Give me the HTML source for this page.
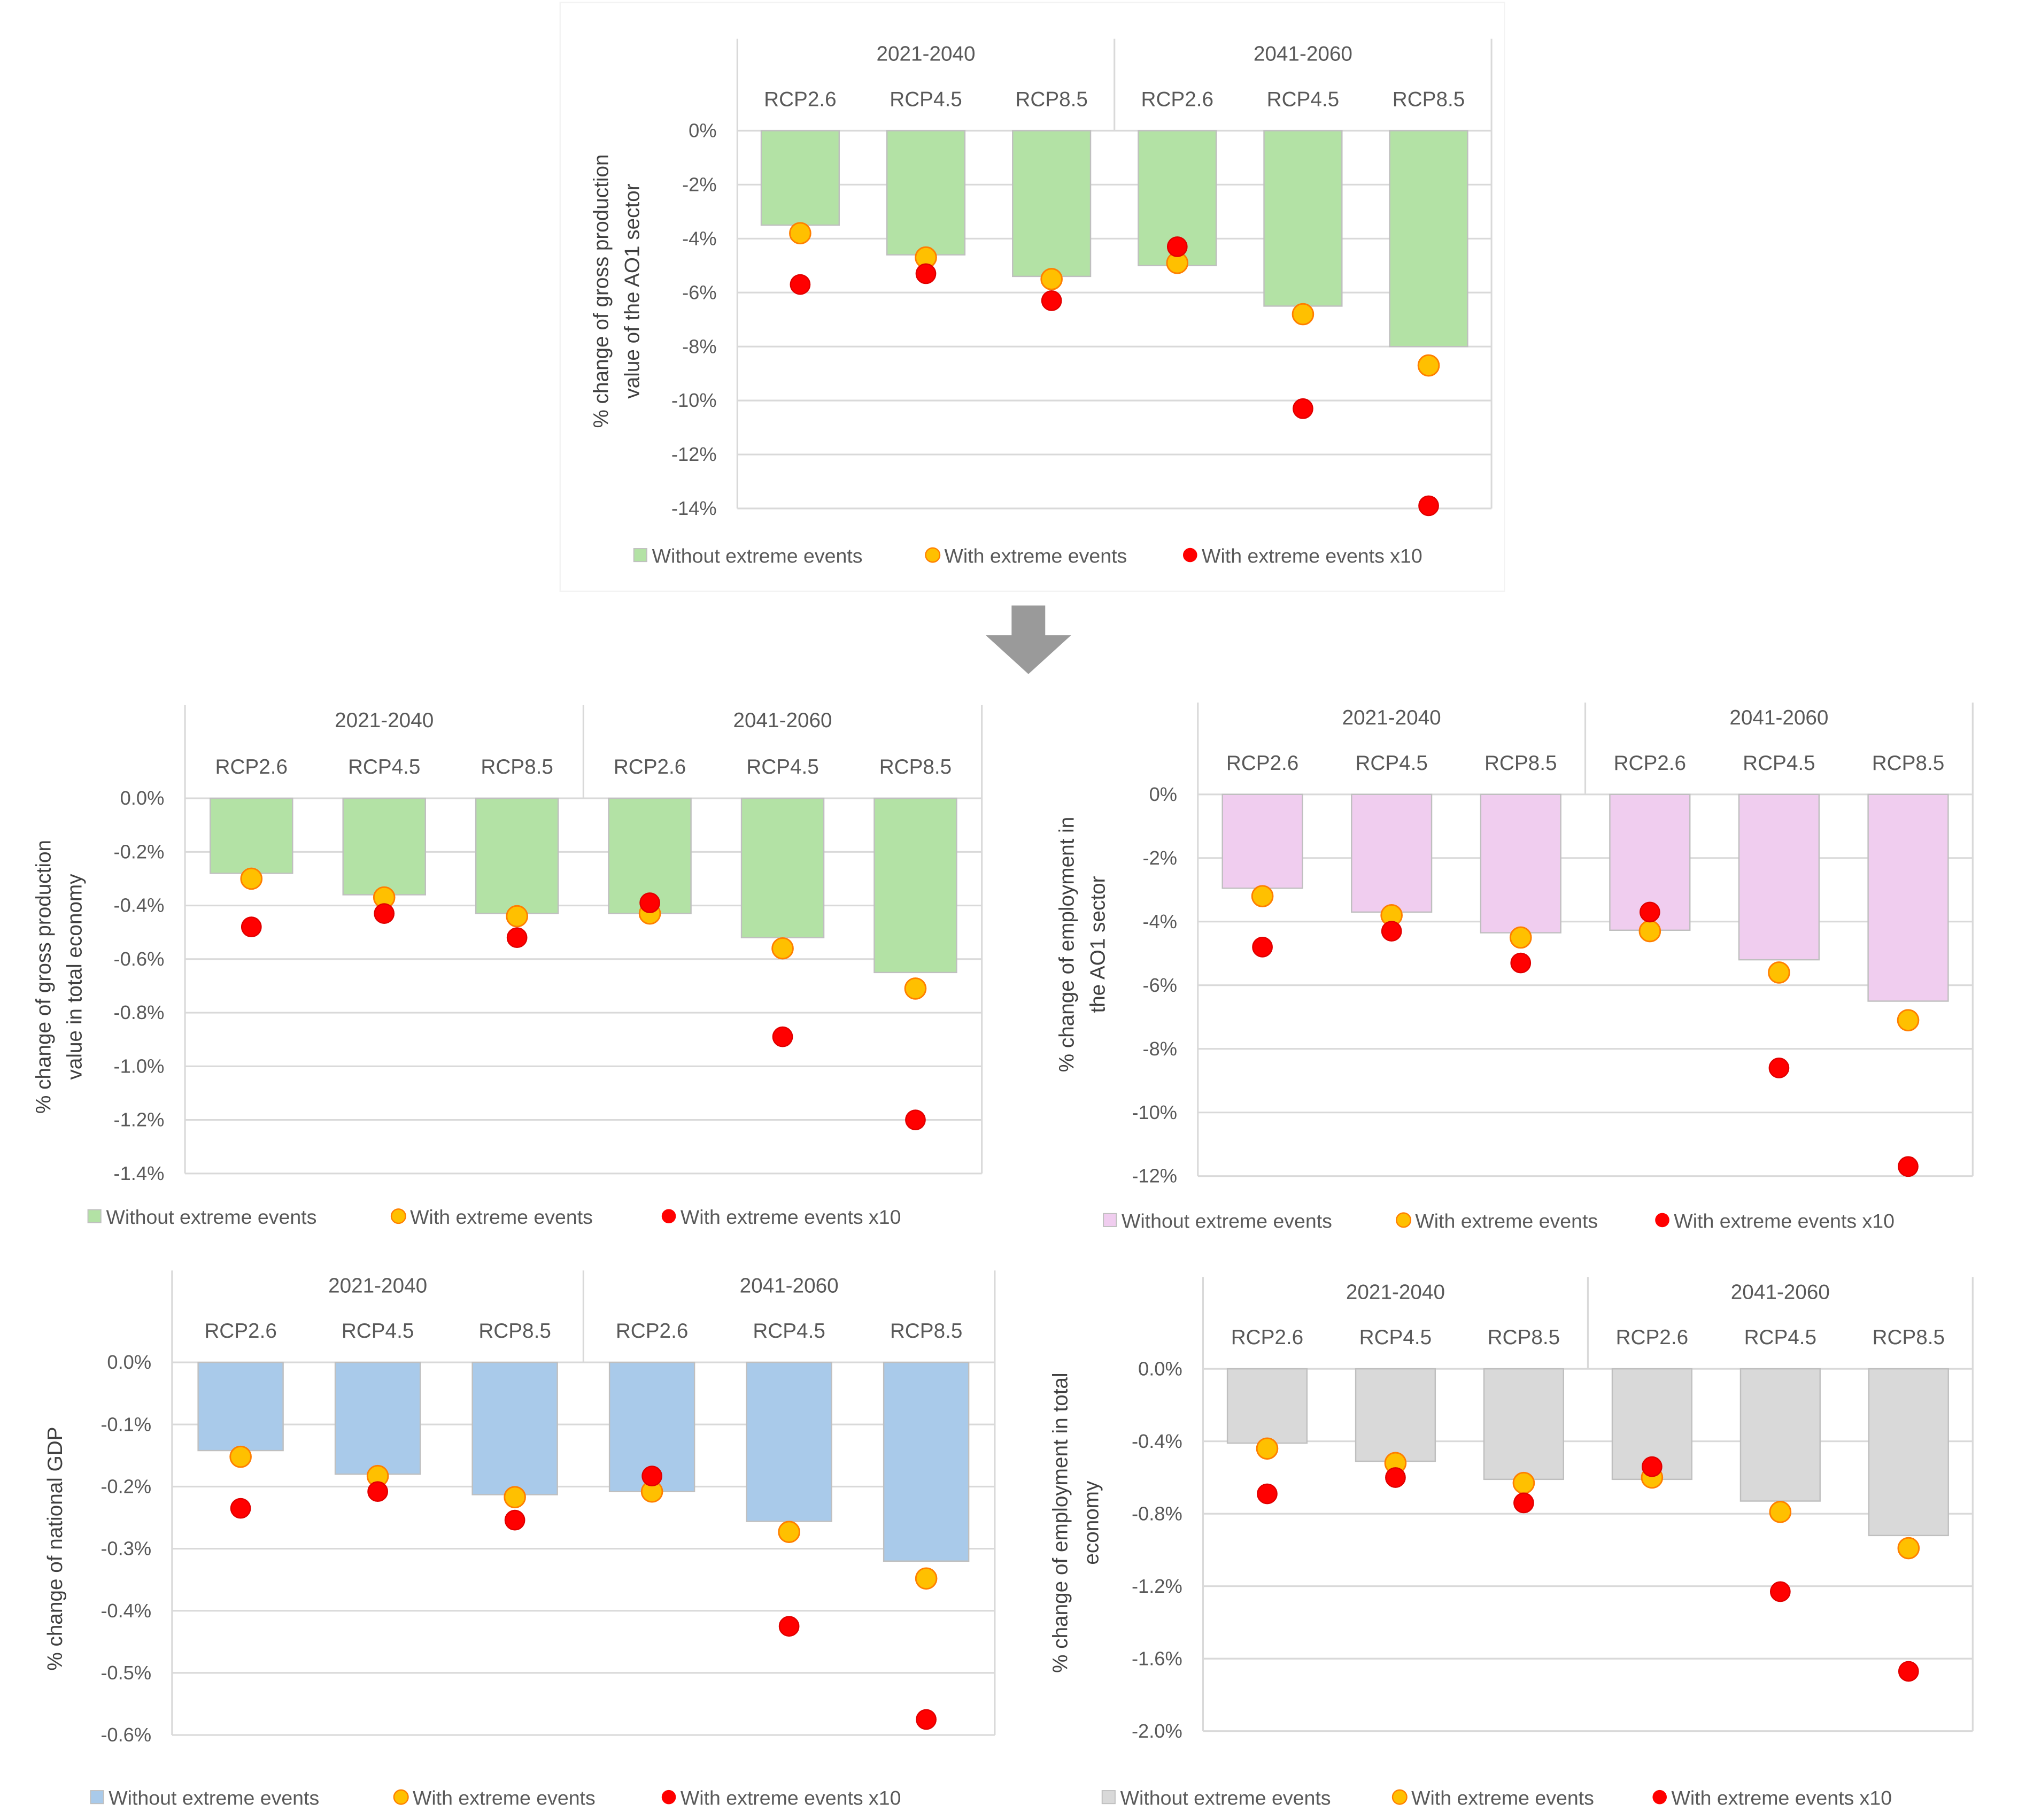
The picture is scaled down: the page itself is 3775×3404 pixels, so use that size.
<!DOCTYPE html>
<html><head><meta charset="utf-8"><style>
html,body{margin:0;padding:0;background:#fff;}
svg{display:block;}
text{font-family:"Liberation Sans",sans-serif;fill:#595959;}
</style></head>
<body>
<svg id="root" xmlns="http://www.w3.org/2000/svg" width="3775" height="3404" viewBox="0 0 1560 1406.7">
<rect x="0" y="0" width="1560" height="1406.7" fill="#fff"/>
<rect x="433" y="2" width="730" height="455" fill="none" stroke="#f3f3f3" stroke-width="1"/>
<polygon points="782,468 808,468 808,491 828,491 795,521 762,491 782,491" fill="#9a9a9a"/>
</svg>
<script>
const categories = ["RCP2.6","RCP4.5","RCP8.5","RCP2.6","RCP4.5","RCP8.5"];
const periods = ["2021-2040","2041-2060"];
const legendLabels = ["Without extreme events","With extreme events","With extreme events x10"];

const c1Bars = [-3.5,-4.6,-5.4,-5.0,-6.5,-8.0];
const c1Orange = [-3.8,-4.7,-5.5,-4.9,-6.8,-8.7];
const c1Red = [-5.7,-5.3,-6.3,-4.3,-10.3,-13.9];
const c1Ticks = [0,-2,-4,-6,-8,-10,-12,-14];

const c2Bars = [-0.28,-0.36,-0.43,-0.43,-0.52,-0.65];
const c2Orange = [-0.30,-0.37,-0.44,-0.43,-0.56,-0.71];
const c2Red = [-0.48,-0.43,-0.52,-0.39,-0.89,-1.20];
const c2Ticks = [0,-0.2,-0.4,-0.6,-0.8,-1.0,-1.2,-1.4];

const c3Bars = [-2.95,-3.7,-4.35,-4.27,-5.2,-6.5];
const c3Orange = [-3.2,-3.8,-4.5,-4.3,-5.6,-7.1];
const c3Red = [-4.8,-4.3,-5.3,-3.7,-8.6,-11.7];
const c3Ticks = [0,-2,-4,-6,-8,-10,-12];

const c4Bars = [-0.142,-0.18,-0.213,-0.208,-0.256,-0.32];
const c4Orange = [-0.152,-0.183,-0.217,-0.208,-0.273,-0.348];
const c4Red = [-0.235,-0.208,-0.254,-0.183,-0.425,-0.575];
const c4Ticks = [0,-0.1,-0.2,-0.3,-0.4,-0.5,-0.6];

const c5Bars = [-0.41,-0.51,-0.61,-0.61,-0.73,-0.92];
const c5Orange = [-0.44,-0.52,-0.63,-0.60,-0.79,-0.99];
const c5Red = [-0.69,-0.60,-0.74,-0.54,-1.23,-1.67];
const c5Ticks = [0,-0.4,-0.8,-1.2,-1.6,-2.0];

const NS = "http://www.w3.org/2000/svg";
const root = document.getElementById("root");
function mk(tag, attrs, parent, txt){
  const e = document.createElementNS(NS, tag);
  for (const k in attrs) e.setAttribute(k, attrs[k]);
  if (txt !== undefined) e.textContent = txt;
  (parent || root).appendChild(e);
  return e;
}

function chart(cfg){
  const g = mk("g", {});
  
  
  const {x0,x1,y0,y1,ymin,top,bars,orange,red,ticks,fmt,fill,title,titleX,titleY,legY,legX} = cfg;
  const ys = v => y0 + (v/ymin)*(y1-y0);
  const cw = (x1-x0)/categories.length;
  const xc = i => x0 + cw*(i+0.5);
  // gridlines & ticks
  ticks.forEach(t=>{
    const ln = mk("line",{x1:x0,x2:x1,y1:ys(t),y2:ys(t),stroke:"#d9d9d9","stroke-width":1.3},g);
    
    
    const tx = mk("text",{x:x0-16,y:ys(t)+5,"text-anchor":"end","font-size":15},g,fmt(t));
    
    
  });
  // frame lines
  mk("line",{x1:x0,x2:x0,y1:top,y2:y1,stroke:"#d9d9d9","stroke-width":1.3},g);
  mk("line",{x1:x1,x2:x1,y1:top,y2:y1,stroke:"#d9d9d9","stroke-width":1.3},g);
  mk("line",{x1:(x0+x1)/2,x2:(x0+x1)/2,y1:top,y2:y0,stroke:"#d9d9d9","stroke-width":1.3},g);
  // period labels
  periods.forEach((p,i)=>{
    const t = mk("text",{x:x0+(x1-x0)*(0.25+0.5*i),y:top+17,"text-anchor":"middle","font-size":16},g,p);
    
    
  });
  categories.forEach((c,i)=>{
    const t = mk("text",{x:xc(i),y:y0-19,"text-anchor":"middle","font-size":16},g,c);
    
    
  });
  // bars
  const bw = cw*0.62;
  bars.forEach((v,i)=>{
    const r = mk("rect",{x:xc(i)-bw/2,y:y0,width:bw,height:ys(v)-y0,fill:fill,stroke:"#bfbfbf","stroke-width":1},g);
    
    
  });
  orange.forEach((v,i)=>{
    const c = mk("circle",{cx:xc(i),cy:ys(v),r:8,fill:"#ffc000",stroke:"#ff7f00","stroke-width":1.2},g);
    
    
  });
  red.forEach((v,i)=>{
    const c = mk("circle",{cx:xc(i),cy:ys(v),r:7.5,fill:"#ff0000",stroke:"#e00000","stroke-width":1},g);
    
    
  });
  // axis title
  const tg = mk("text",{transform:`translate(${titleX},${titleY}) rotate(-90)`,"text-anchor":"middle","font-size":16,style:"fill:#404040"},g);
  
  
  title.forEach((l,k)=>{ mk("tspan",{x:0,dy:k===0?(title.length>1?-4:5):24},tg,l); });
  // legend
  const lg = mk("g",{},g);
  
  
  const e1 = mk("rect",{x:legX[0],y:legY-6,width:10,height:10,fill:fill,stroke:"#bfbfbf","stroke-width":0.8},lg);
  
  
  const e2 = mk("circle",{cx:legX[1]+5,cy:legY-1,r:5.5,fill:"#ffc000",stroke:"#ff7f00","stroke-width":1},lg);
  
  
  const e3 = mk("circle",{cx:legX[2]+5,cy:legY-1,r:5.5,fill:"#ff0000"},lg);
  
  
  legendLabels.forEach((l,k)=>{
    const t = mk("text",{x:legX[k]+14,y:legY+5,"font-size":15.5},lg,l);
    
    
  });
}
const pct0 = t => (t===0?"0":t) + "%";
const pct1 = t => t.toFixed(1) + "%";

chart({name:"chart-a01-gross-production",x0:570,x1:1153,y0:101,y1:393,ymin:-14,top:30,bars:c1Bars,orange:c1Orange,red:c1Red,ticks:c1Ticks,fmt:pct0,fill:"#b3e2a5",title:["% change of gross production","value of the AO1 sector"],titleX:474,titleY:225,legY:430,legX:[490,716,915]});
chart({name:"chart-total-gross-production",x0:143,x1:759,y0:617,y1:907,ymin:-1.4,top:545,bars:c2Bars,orange:c2Orange,red:c2Red,ticks:c2Ticks,fmt:pct1,fill:"#b3e2a5",title:["% change of gross production","value in total economy"],titleX:43,titleY:755,legY:941,legX:[68,303,512]});
chart({name:"chart-a01-employment",x0:926,x1:1525,y0:614,y1:909,ymin:-12,top:543,bars:c3Bars,orange:c3Orange,red:c3Red,ticks:c3Ticks,fmt:pct0,fill:"#f0cdef",title:["% change of employment in","the AO1 sector"],titleX:834,titleY:730,legY:944,legX:[853,1080,1280]});
chart({name:"chart-national-gdp",x0:133,x1:769,y0:1053,y1:1341,ymin:-0.6,top:982,bars:c4Bars,orange:c4Orange,red:c4Red,ticks:c4Ticks,fmt:pct1,fill:"#a9caea",title:["% change of national GDP"],titleX:43,titleY:1197,legY:1390,legX:[70,305,512]});
chart({name:"chart-total-employment",x0:930,x1:1525,y0:1058,y1:1338,ymin:-2.0,top:987,bars:c5Bars,orange:c5Orange,red:c5Red,ticks:c5Ticks,fmt:pct1,fill:"#d9d9d9",title:["% change of employment in total","economy"],titleX:829,titleY:1177,legY:1390,legX:[852,1077,1278]});
</script>
</body></html>
